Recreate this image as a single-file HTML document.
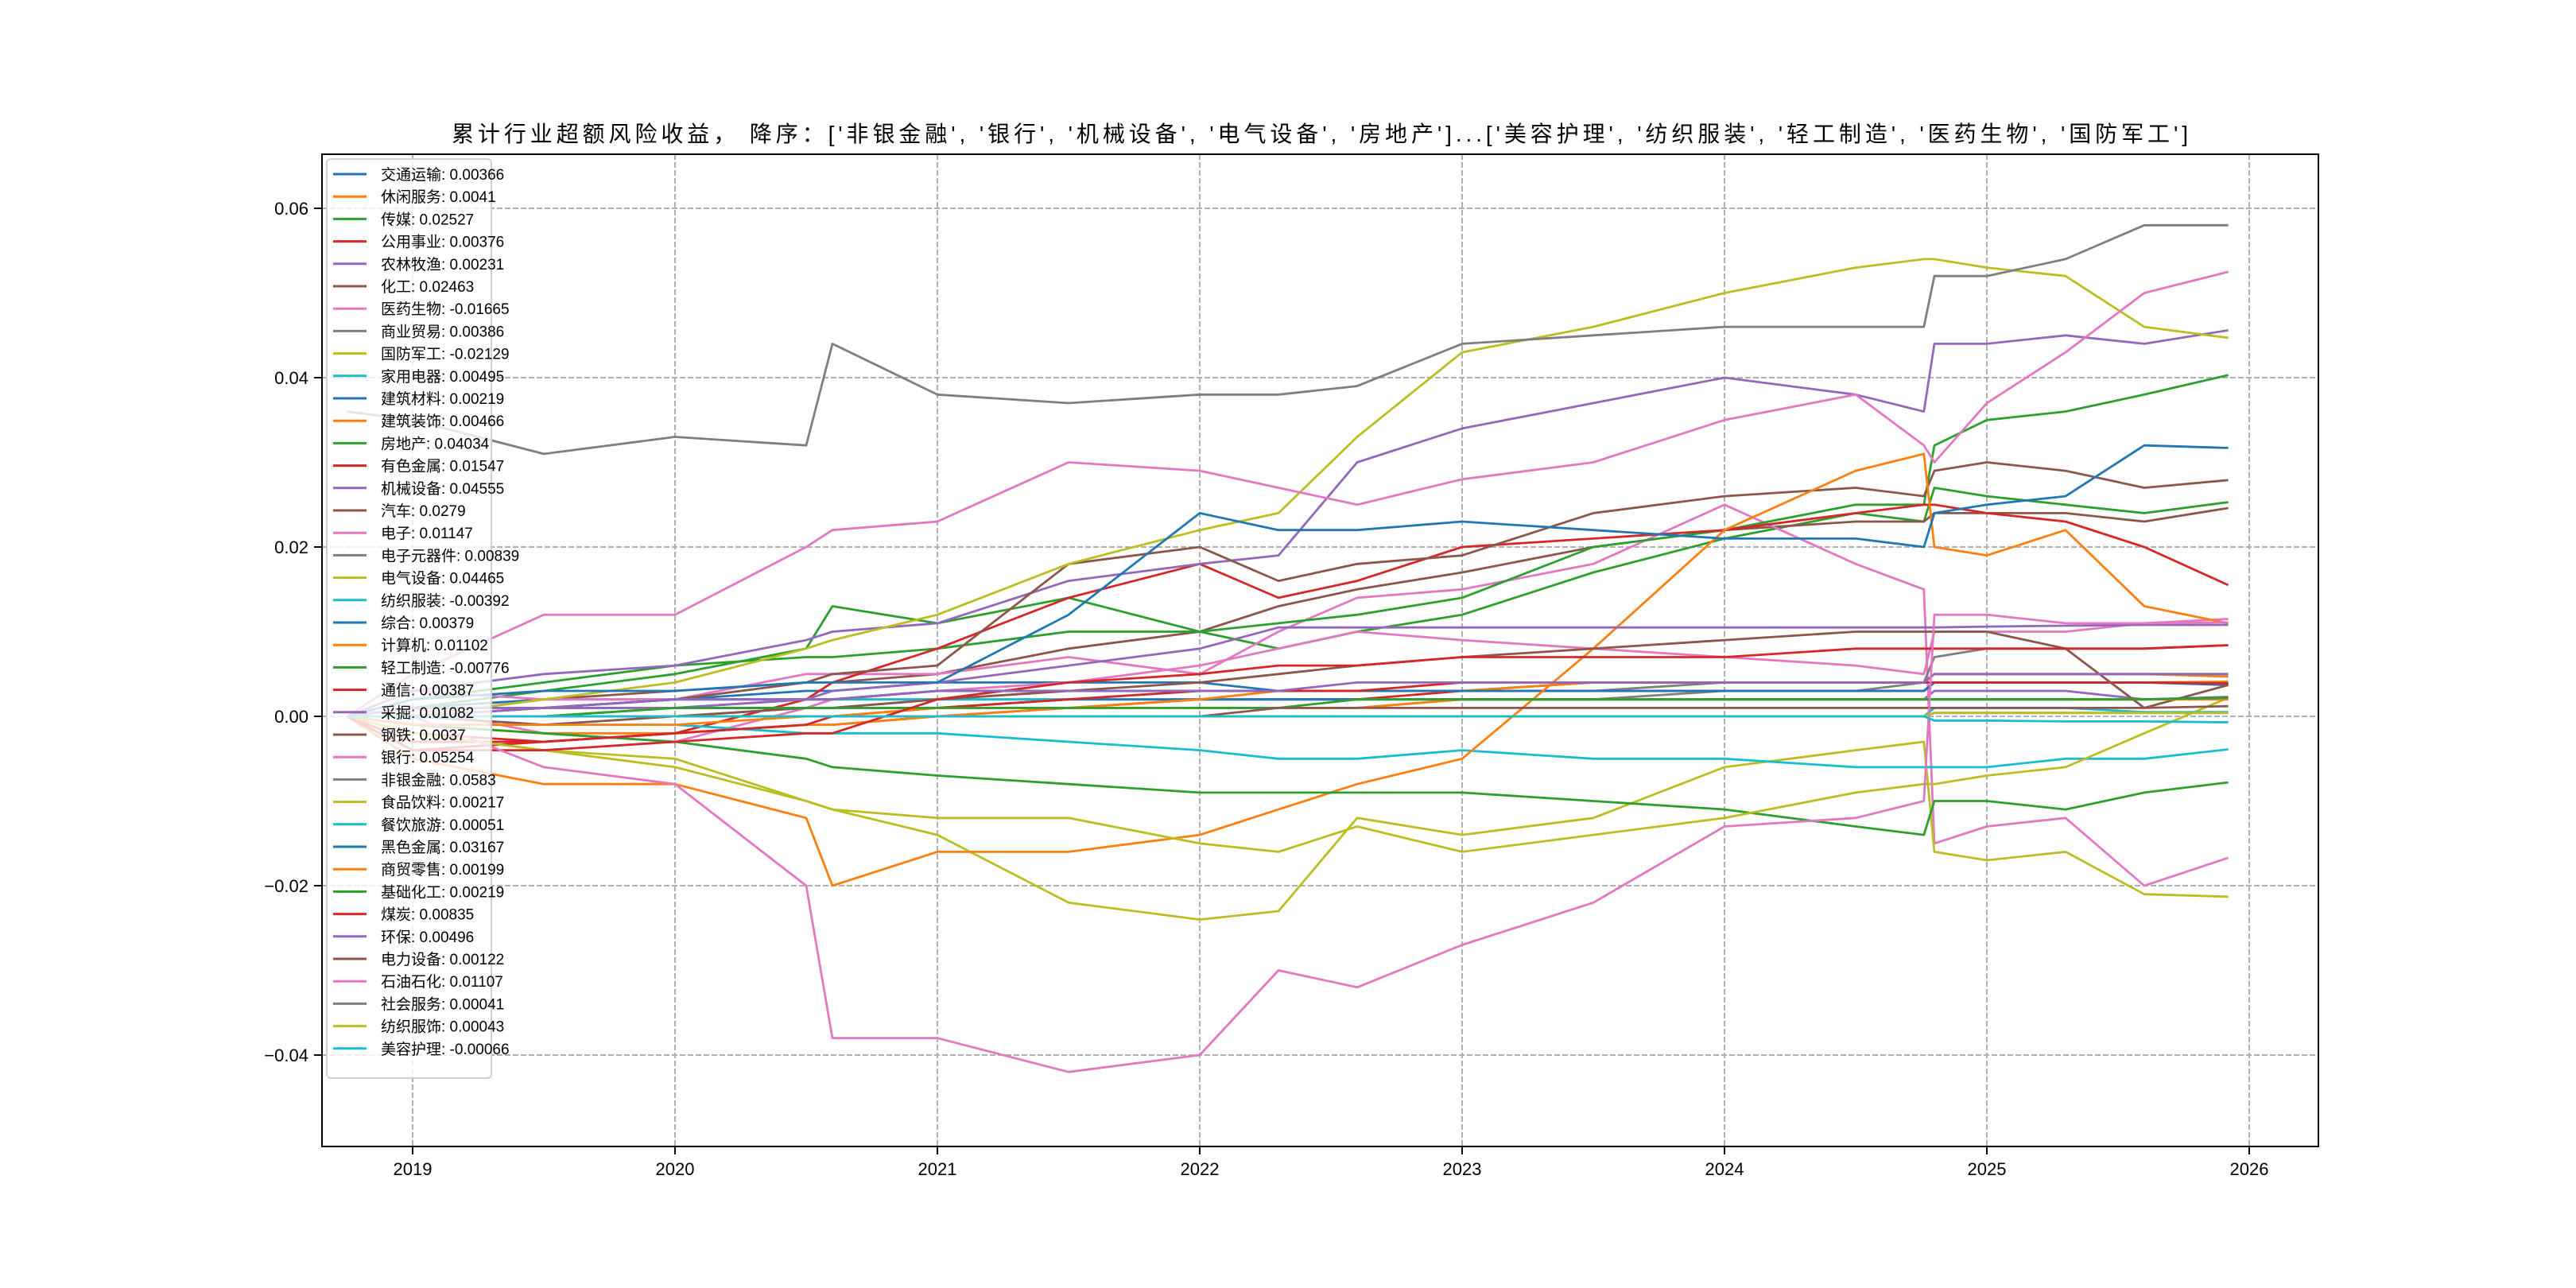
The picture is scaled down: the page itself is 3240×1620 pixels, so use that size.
<!DOCTYPE html>
<html><head><meta charset="utf-8">
<style>
html,body{margin:0;padding:0;background:#fff;}
svg{display:block;}
text{font-family:"Liberation Sans","Noto Sans CJK SC","WenQuanYi Zen Hei",sans-serif;}
</style></head>
<body>
<svg id="chart" width="3240" height="1620" viewBox="0 0 3240 1620" xmlns="http://www.w3.org/2000/svg">
<rect x="0" y="0" width="3240" height="1620" fill="#fff"/>
<text x="568" y="178" font-size="28" textLength="2184" lengthAdjust="spacing" fill="#000">累计行业超额风险收益， 降序：['非银金融', '银行', '机械设备', '电气设备', '房地产']...['美容护理', '纺织服装', '轻工制造', '医药生物', '国防军工']</text>
<g id="grid"></g>
<g id="plot"></g>
<rect x="405" y="194" width="2511" height="1248" fill="none" stroke="#000" stroke-width="2"/>
<g id="axes"></g>
<g id="legend"></g>
</svg>
<script>
const T = [2018.75,2019,2019.5,2020,2020.5,2020.6,2021,2021.5,2022,2022.3,2022.6,2023,2023.5,2024,2024.5,2024.76,2024.8,2025,2025.3,2025.6,2025.92];
const names = ['交通运输: 0.00366','休闲服务: 0.0041','传媒: 0.02527','公用事业: 0.00376','农林牧渔: 0.00231','化工: 0.02463','医药生物: -0.01665','商业贸易: 0.00386','国防军工: -0.02129','家用电器: 0.00495','建筑材料: 0.00219','建筑装饰: 0.00466','房地产: 0.04034','有色金属: 0.01547','机械设备: 0.04555','汽车: 0.0279','电子: 0.01147','电子元器件: 0.00839','电气设备: 0.04465','纺织服装: -0.00392','综合: 0.00379','计算机: 0.01102','轻工制造: -0.00776','通信: 0.00387','采掘: 0.01082','钢铁: 0.0037','银行: 0.05254','非银金融: 0.0583','食品饮料: 0.00217','餐饮旅游: 0.00051','黑色金属: 0.03167','商贸零售: 0.00199','基础化工: 0.00219','煤炭: 0.00835','环保: 0.00496','电力设备: 0.00122','石油石化: 0.01107','社会服务: 0.00041','纺织服饰: 0.00043','美容护理: -0.00066'];
const s00 = [0,0.001,0.002,0.002,0.003,0.003,0.004,0.004,0.004,0.003,0.003,0.003,0.003,0.003,0.003,0.003,0.004,0.004,0.004,0.004,0.0037];
const s01 = [0,0,0.001,0.001,0.002,0.002,0.002,0.003,0.003,0.003,0.003,0.003,0.004,0.004,0.004,0.004,0.004,0.004,0.004,0.004,0.0041];
const s02 = [0,0.001,0.003,0.005,0.008,0.013,0.011,0.014,0.010,0.008,0.010,0.012,0.017,0.021,0.024,0.023,0.027,0.026,0.025,0.024,0.0253];
const s03 = [0,-0.002,-0.003,-0.002,-0.001,-0.001,0,0.001,0.002,0.002,0.002,0.003,0.003,0.003,0.003,0.003,0.004,0.004,0.004,0.004,0.0038];
const s04 = [0,0,0.001,0.001,0.001,0.001,0.002,0.002,0.002,0.002,0.002,0.002,0.002,0.002,0.002,0.002,0.003,0.003,0.003,0.002,0.0023];
const s05 = [0,0,0.002,0.003,0.004,0.004,0.005,0.008,0.010,0.013,0.015,0.017,0.020,0.022,0.023,0.023,0.024,0.024,0.024,0.023,0.0246];
const s06 = [0,0.003,0.002,0.002,0.005,0.005,0.005,0.007,0.005,0.010,0.014,0.015,0.018,0.025,0.018,0.015,-0.015,-0.013,-0.012,-0.020,-0.0167];
const s07 = [0,0.001,0.001,0.002,0.002,0.002,0.003,0.003,0.003,0.003,0.003,0.003,0.003,0.004,0.004,0.004,0.004,0.004,0.004,0.004,0.0039];
const s08 = [0,-0.002,-0.004,-0.005,-0.010,-0.011,-0.014,-0.022,-0.024,-0.023,-0.012,-0.014,-0.012,-0.006,-0.004,-0.003,-0.016,-0.017,-0.016,-0.021,-0.0213];
const s09 = [0,0,0.001,0.001,0.001,0.002,0.002,0.002,0.003,0.003,0.003,0.003,0.004,0.004,0.004,0.004,0.005,0.005,0.005,0.005,0.005];
const s10 = [0,0,0,0.001,0.001,0.001,0.001,0.002,0.002,0.002,0.002,0.002,0.002,0.002,0.002,0.002,0.002,0.002,0.002,0.002,0.0022];
const s11 = [0,-0.001,-0.002,-0.002,-0.001,-0.001,0,0.001,0.002,0.003,0.003,0.003,0.004,0.004,0.004,0.004,0.005,0.005,0.005,0.005,0.0047];
const s12 = [0,0.002,0.004,0.006,0.007,0.007,0.008,0.010,0.010,0.011,0.012,0.014,0.020,0.022,0.025,0.025,0.032,0.035,0.036,0.038,0.0403];
const s13 = [0,-0.004,-0.003,-0.002,0.002,0.004,0.008,0.014,0.018,0.014,0.016,0.020,0.021,0.022,0.024,0.025,0.025,0.024,0.023,0.020,0.0155];
const s14 = [0,0.003,0.005,0.006,0.009,0.010,0.011,0.016,0.018,0.019,0.030,0.034,0.037,0.040,0.038,0.036,0.044,0.044,0.045,0.044,0.0456];
const s15 = [0,0,0.001,0.002,0.004,0.005,0.006,0.018,0.020,0.016,0.018,0.019,0.024,0.026,0.027,0.026,0.029,0.030,0.029,0.027,0.0279];
const s16 = [0,0.001,-0.002,-0.003,0.001,0.002,0.003,0.004,0.006,0.008,0.010,0.009,0.008,0.007,0.006,0.005,0.010,0.010,0.010,0.011,0.0115];
const s17 = [0,0,0,0,0.001,0.001,0.001,0.001,0.001,0.001,0.001,0.002,0.002,0.003,0.003,0.004,0.007,0.008,0.008,0.008,0.0084];
const s18 = [0,0,0.002,0.004,0.008,0.009,0.012,0.018,0.022,0.024,0.033,0.043,0.046,0.050,0.053,0.054,0.054,0.053,0.052,0.046,0.0447];
const s19 = [0,0,-0.001,-0.001,-0.002,-0.002,-0.002,-0.003,-0.004,-0.005,-0.005,-0.004,-0.005,-0.005,-0.006,-0.006,-0.006,-0.006,-0.005,-0.005,-0.0039];
const s20 = [0,0.001,0.001,0.002,0.002,0.002,0.003,0.003,0.003,0.003,0.003,0.003,0.003,0.003,0.003,0.003,0.004,0.004,0.004,0.004,0.0038];
const s21 = [0,-0.005,-0.008,-0.008,-0.012,-0.020,-0.016,-0.016,-0.014,-0.011,-0.008,-0.005,0.008,0.022,0.029,0.031,0.020,0.019,0.022,0.013,0.011];
const s22 = [0,-0.001,-0.002,-0.003,-0.005,-0.006,-0.007,-0.008,-0.009,-0.009,-0.009,-0.009,-0.010,-0.011,-0.013,-0.014,-0.010,-0.010,-0.011,-0.009,-0.0078];
const s23 = [0,-0.003,-0.003,-0.002,-0.001,0,0.001,0.002,0.003,0.003,0.003,0.004,0.004,0.004,0.004,0.004,0.004,0.004,0.004,0.004,0.0039];
const s24 = [0,0,0.001,0.001,0.002,0.003,0.004,0.006,0.008,0.0105,0.0105,0.0105,0.0105,0.0105,0.0105,0.0105,0.0105,0.0106,0.0107,0.0108,0.0108];
const s25 = [0,0,-0.001,0,0.001,0.001,0.002,0.003,0.004,0.005,0.006,0.007,0.008,0.009,0.010,0.010,0.010,0.010,0.008,0.001,0.0037];
const s26 = [0,0.005,0.012,0.012,0.020,0.022,0.023,0.030,0.029,0.027,0.025,0.028,0.030,0.035,0.038,0.032,0.030,0.037,0.043,0.050,0.0525];
const s27 = [0.036,0.035,0.031,0.033,0.032,0.044,0.038,0.037,0.038,0.038,0.039,0.044,0.045,0.046,0.046,0.046,0.052,0.052,0.054,0.058,0.058];
const s28 = [0,-0.002,-0.004,-0.006,-0.010,-0.011,-0.012,-0.012,-0.015,-0.016,-0.013,-0.016,-0.014,-0.012,-0.009,-0.008,-0.008,-0.007,-0.006,-0.002,0.0022];
const s29 = [0,0,0,0,0,0,0,0,0,0,0,0,0,0,0,0,0.001,0.001,0.001,0.0005,0.0005];
const s30 = [0,0.002,0.003,0.003,0.004,0.004,0.004,0.012,0.024,0.022,0.022,0.023,0.022,0.021,0.021,0.020,0.024,0.025,0.026,0.032,0.0317];
const s31 = [0,-0.001,-0.001,-0.001,0,0,0.001,0.001,0.001,0.001,0.001,0.002,0.002,0.002,0.002,0.002,0.002,0.002,0.002,0.002,0.002];
const s32 = [0,0,0,0.001,0.001,0.001,0.001,0.001,0.001,0.001,0.002,0.002,0.002,0.002,0.002,0.002,0.002,0.002,0.002,0.002,0.0022];
const s33 = [0,-0.004,-0.004,-0.003,-0.002,-0.002,0.002,0.004,0.005,0.006,0.006,0.007,0.007,0.007,0.008,0.008,0.008,0.008,0.008,0.008,0.0084];
const s34 = [0,0.001,0.001,0.002,0.002,0.002,0.003,0.003,0.003,0.003,0.004,0.004,0.004,0.004,0.004,0.004,0.005,0.005,0.005,0.005,0.005];
const s35 = [0,0,0,0,0,0,0,0,0,0.001,0.001,0.001,0.001,0.001,0.001,0.001,0.001,0.001,0.001,0.001,0.0012];
const s36 = [0,0,-0.006,-0.008,-0.020,-0.038,-0.038,-0.042,-0.040,-0.030,-0.032,-0.027,-0.022,-0.013,-0.012,-0.010,0.012,0.012,0.011,0.011,0.0111];
const s37 = [0,0,0,0,0,0,0,0,0,0,0,0,0,0,0,0,0.0004,0.0004,0.0004,0.0004,0.0004];
const s38 = [0,0,0,0,0,0,0,0,0,0,0,0,0,0,0,0,0.0004,0.0004,0.0004,0.0004,0.0004];
const s39 = [0,0,0,0,0,0,0,0,0,0,0,0,0,0,0,0,-0.0005,-0.0005,-0.0006,-0.0006,-0.0007];
const series = [s00,s01,s02,s03,s04,s05,s06,s07,s08,s09,s10,s11,s12,s13,s14,s15,s16,s17,s18,s19,s20,s21,s22,s23,s24,s25,s26,s27,s28,s29,s30,s31,s32,s33,s34,s35,s36,s37,s38,s39];
const xTicks = [2019,2020,2021,2022,2023,2024,2025,2026];
const yTicks = [-0.04,-0.02,0.00,0.02,0.04,0.06];
const yTickLabels = ['−0.04','−0.02','0.00','0.02','0.04','0.06'];

const colors = ['#1f77b4','#ff7f0e','#2ca02c','#d62728','#9467bd','#8c564b','#e377c2','#7f7f7f','#bcbd22','#17becf'];
const NS = 'http://www.w3.org/2000/svg';
function xs(yr){ return 519 + (yr - 2019) * 330; }
function ys(v){ return 901 - v * 10650; }
function mk(tag, attrs, parent){ const e = document.createElementNS(NS, tag); for (const k in attrs) e.setAttribute(k, attrs[k]); parent.appendChild(e); return e; }

const grid = document.getElementById('grid');
const axes = document.getElementById('axes');
xTicks.forEach(function(t){
  const x = xs(t);
  const gl = mk('line', {x1:x, x2:x, y1:194, y2:1442, stroke:'#b0b0b0', 'stroke-width':2, 'stroke-dasharray':'7,3'}, grid);
  
  
  const tk = mk('line', {x1:x, x2:x, y1:1442, y2:1452, stroke:'#000', 'stroke-width':2}, axes);
  
  
  const tl = mk('text', {x:x, y:1478, 'font-size':22, 'text-anchor':'middle', fill:'#000'}, axes);
  tl.textContent = String(t);
  
  
});
yTicks.forEach(function(v, i){
  const y = ys(v);
  const gl = mk('line', {x1:405, x2:2916, y1:y, y2:y, stroke:'#b0b0b0', 'stroke-width':2, 'stroke-dasharray':'7,3'}, grid);
  
  
  const tk = mk('line', {x1:395, x2:405, y1:y, y2:y, stroke:'#000', 'stroke-width':2}, axes);
  
  
  const tl = mk('text', {x:388, y:y + 8, 'font-size':22, 'text-anchor':'end', fill:'#000'}, axes);
  tl.textContent = yTickLabels[i];
  
  
});

const plot = document.getElementById('plot');
series.forEach(function(vals, i){
  const pts = vals.map(function(v, j){ return xs(T[j]).toFixed(1) + ',' + ys(v).toFixed(1); }).join(' ');
  const pl = mk('polyline', {points:pts, fill:'none', stroke:colors[i % 10], 'stroke-width':2.8, 'stroke-linejoin':'round'}, plot);
  
  
});

const legend = document.getElementById('legend');
const lb = mk('rect', {x:411, y:200, width:207, height:1156, rx:5, fill:'#fff', 'fill-opacity':0.8, stroke:'#d0d0d0', 'stroke-width':2}, legend);


names.forEach(function(n, i){
  const y = 219 + i * 28.2;
  const g = mk('g', {}, legend);
  
  
  mk('line', {x1:419, x2:461, y1:y, y2:y, stroke:colors[i % 10], 'stroke-width':3}, g);
  const t = mk('text', {x:479, y:y + 7, 'font-size':19, fill:'#000'}, g);
  t.textContent = n;
});
</script>
</body></html>
